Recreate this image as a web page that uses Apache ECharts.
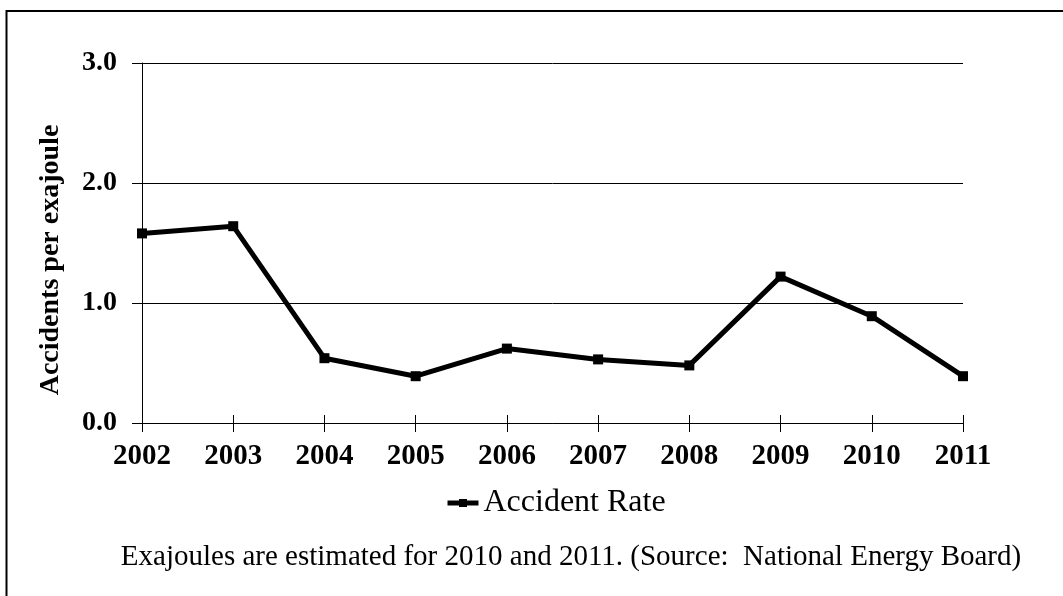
<!DOCTYPE html>
<html>
<head>
<meta charset="utf-8">
<title>Accident Rate</title>
<script src="https://cdn.jsdelivr.net/npm/echarts@6/dist/echarts.min.js"></script>
<style>
  html, body { margin: 0; padding: 0; background: #ffffff; }
  #chart { width: 1063px; height: 596px; }
</style>
</head>
<body>
<div id="chart"></div>
<script>
// Pipeline accident rate per exajoule of energy shipped, 2002-2011
const years = ['2002', '2003', '2004', '2005', '2006', '2007', '2008', '2009', '2010', '2011'];
const accidentRate = [1.58, 1.64, 0.54, 0.39, 0.62, 0.53, 0.48, 1.22, 0.89, 0.39];
const yTicks = [0, 1, 2, 3];
const seriesName = 'Accident Rate';
const yAxisTitle = 'Accidents per exajoule';
const footnote = 'Exajoules are estimated for 2010 and 2011. (Source:  National Energy Board)';

const SERIF = '"Liberation Serif", "Times New Roman", Times, serif';

const chart = echarts.init(document.getElementById('chart'), null, { renderer: 'canvas' });

const option = {
  backgroundColor: '#ffffff',
  animation: false,
  grid: { left: 142, right: 100, top: 63, bottom: 173, containLabel: false },
  legend: {
    data: [seriesName],
    left: 440,
    top: 482,
    itemWidth: 31,
    itemHeight: 10,
    lineStyle: { width: 5, color: '#000' },
    itemStyle: { color: '#000' },
    textStyle: { fontFamily: SERIF, fontSize: 32, color: '#000' }
  },
  xAxis: [
    {
      type: 'category',
      data: years,
      boundaryGap: false,
      axisLine: { lineStyle: { color: '#000', width: 1 } },
      axisTick: { show: true, length: 9, lineStyle: { color: '#000' } },
      axisLabel: {
        margin: 19,
        fontFamily: SERIF,
        fontWeight: 'bold',
        fontSize: 29,
        color: '#000'
      },
      splitLine: { show: false }
    },
    {
      // inner half of the crossing tick marks
      type: 'category',
      data: years,
      boundaryGap: false,
      position: 'bottom',
      axisLine: { show: false },
      axisTick: { show: true, inside: true, length: 8, lineStyle: { color: '#000' } },
      axisLabel: { show: false },
      splitLine: { show: false }
    }
  ],
  yAxis: {
    type: 'value',
    min: yTicks[0],
    max: yTicks[yTicks.length - 1],
    interval: 1,
    axisLine: { show: true, lineStyle: { color: '#000', width: 1 } },
    axisTick: { show: true, length: 10, lineStyle: { color: '#000' } },
    axisLabel: {
      margin: 25,
      fontFamily: SERIF,
      fontWeight: 'bold',
      fontSize: 28,
      color: '#000',
      formatter: v => v.toFixed(1)
    },
    splitLine: { show: true, lineStyle: { color: '#000', width: 1 } }
  },
  series: [
    {
      name: seriesName,
      type: 'line',
      data: accidentRate,
      symbol: 'rect',
      symbolSize: 10,
      lineStyle: { color: '#000', width: 5 },
      itemStyle: { color: '#000' },
      emphasis: { disabled: true }
    }
  ],
  graphic: [
    {
      type: 'rect',
      shape: { x: 6.5, y: 11, width: 1200, height: 800 },
      style: { fill: null, stroke: '#000', lineWidth: 2 },
      silent: true
    },
    {
      type: 'text',
      x: 51,
      y: 260,
      rotation: Math.PI / 2,
      style: {
        text: yAxisTitle,
        fontFamily: SERIF,
        fontWeight: 'bold',
        fontSize: 28,
        fill: '#000',
        align: 'center',
        verticalAlign: 'middle'
      }
    },
    {
      type: 'text',
      x: 571,
      y: 557,
      style: {
        text: footnote,
        fontFamily: SERIF,
        fontSize: 29,
        fill: '#000',
        align: 'center',
        verticalAlign: 'middle'
      }
    }
  ]
};

chart.setOption(option);
</script>
</body>
</html>
